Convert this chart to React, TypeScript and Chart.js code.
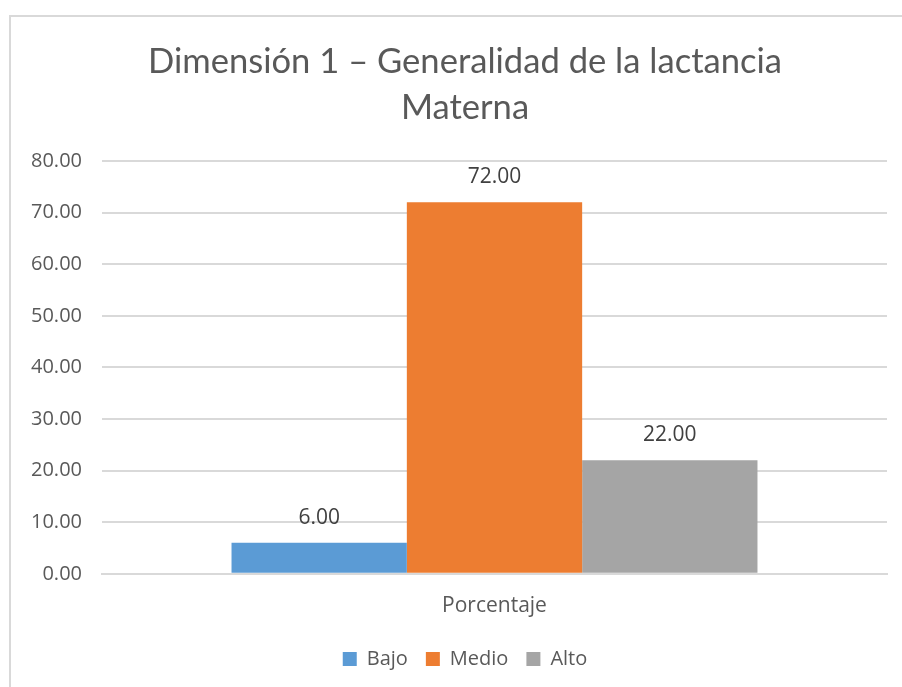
import React, { useEffect, useRef } from "react";
import { Chart, registerables } from "chart.js";

Chart.register(...registerables);

const categories = ["Porcentaje"];
const seriesNames = ["Bajo", "Medio", "Alto"];
const seriesValues = [[6.0], [72.0], [22.0]];
const seriesColors = ["#5B9BD5", "#ED7D31", "#A5A5A5"];
const titleLines = ["Dimensión 1 – Generalidad de la lactancia", "Materna"];

const FONT = "'Open Sans', 'DejaVu Sans', sans-serif";

const valueLabels = {
  id: "valueLabels",
  afterDatasetsDraw(chart: any) {
    const ctx = chart.ctx;
    ctx.save();
    ctx.font = `21px ${FONT}`;
    ctx.fillStyle = "#404040";
    ctx.textAlign = "center";
    ctx.textBaseline = "middle";
    chart.data.datasets.forEach((ds: any, i: number) => {
      const meta = chart.getDatasetMeta(i);
      meta.data.forEach((bar: any, j: number) => {
        ctx.fillText(Number(ds.data[j]).toFixed(2), bar.x, bar.y - 25);
      });
    });
    ctx.restore();
  },
};

export default function App() {
  const ref = useRef<HTMLCanvasElement>(null);
  useEffect(() => {
    const chart = new Chart(ref.current as HTMLCanvasElement, {
      type: "bar",
      data: {
        labels: categories,
        datasets: seriesNames.map((n, i) => ({
          label: n,
          data: seriesValues[i],
          backgroundColor: seriesColors[i],
          categoryPercentage: 0.67,
          barPercentage: 1,
        })),
      },
      options: {
        animation: false,
        responsive: false,
        maintainAspectRatio: false,
        layout: { padding: { left: 0, right: 0, top: 0, bottom: 10 } },
        plugins: {
          title: {
            display: true,
            text: titleLines,
            color: "#595959",
            font: { family: "Lato, sans-serif", size: 34.6, weight: "normal", lineHeight: 1.33 },
            padding: { top: 22, bottom: 30 },
          },
          legend: {
            position: "bottom",
            labels: {
              color: "#595959",
              font: { family: FONT, size: 20 },
              boxWidth: 14,
              boxHeight: 14,
              padding: 18,
            },
          },
          tooltip: { enabled: false },
        },
        scales: {
          x: {
            grid: { display: false },
            border: { display: true, color: "#d9d9d9", width: 2 },
            ticks: { color: "#595959", font: { family: FONT, size: 21 }, padding: 12 },
          },
          y: {
            min: 0,
            max: 80,
            ticks: {
              stepSize: 10,
              color: "#595959",
              font: { family: FONT, size: 20 },
              padding: 20,
              callback: (v: any) => Number(v).toFixed(2),
            },
            grid: { color: "#d9d9d9", lineWidth: 2, drawTicks: false },
            border: { display: false },
          },
          yRight: {
            type: "linear",
            axis: "y",
            position: "right",
            min: 0,
            max: 80,
            grid: { display: false, drawOnChartArea: false },
            ticks: { display: false },
            border: { display: false },
            afterFit: (s: any) => {
              s.width = 32;
            },
          } as any,
        },
      },
      plugins: [valueLabels],
    });
    return () => chart.destroy();
  }, []);
  return (
    <div
      style={{
        position: "fixed",
        left: 9,
        top: 15,
        width: 920,
        height: 680,
        borderLeft: "2px solid #d9d9d9",
        borderTop: "2px solid #d9d9d9",
        background: "#fff",
      }}
    >
      <canvas ref={ref} width={908} height={672} style={{ display: "block" }} />
    </div>
  );
}
